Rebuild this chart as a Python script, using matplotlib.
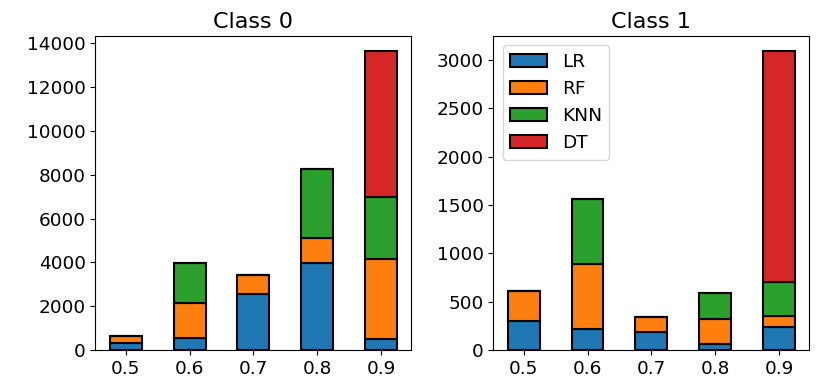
import matplotlib.pyplot as plt
import numpy as np

thresholds = ['0.5', '0.6', '0.7', '0.8', '0.9']
models = ['LR', 'RF', 'KNN', 'DT']

# class 0 counts per model
c0_lr = [300, 530, 2560, 3990, 520]
c0_rf = [340, 1630, 850, 1110, 3650]
c0_knn = [0, 1830, 0, 3180, 2820]
c0_dt = [0, 0, 0, 0, 6660]

# class 1 counts per model
c1_lr = [303, 220, 186, 59, 234]
c1_rf = [307, 670, 159, 258, 121]
c1_knn = [0, 672, 0, 269, 345]
c1_dt = [0, 0, 0, 0, 2393]

colors = ['#1f77b4', '#ff7f0e', '#2ca02c', '#d62728']

fig, axes = plt.subplots(1, 2, figsize=(8.3, 3.88), dpi=100)
x = np.arange(len(thresholds))

for ax, series, title in [(axes[0], [c0_lr, c0_rf, c0_knn, c0_dt], 'Class 0'),
                          (axes[1], [c1_lr, c1_rf, c1_knn, c1_dt], 'Class 1')]:
    bottom = np.zeros(len(x))
    for vals, name, col in zip(series, models, colors):
        vals = np.array(vals, dtype=float)
        ax.bar(x, vals, 0.5, bottom=bottom, color=col, edgecolor='black',
               linewidth=1.5, label=name)
        bottom += vals
    ax.set_xticks(x)
    ax.set_xticklabels(thresholds)
    ax.set_title(title, fontsize=16)
    ax.tick_params(labelsize=13.3)

axes[1].legend(loc='upper left', fontsize=13.3)

plt.subplots_adjust(left=0.115, right=0.975, bottom=0.098, top=0.907, wspace=0.26)
plt.savefig('out.png')
